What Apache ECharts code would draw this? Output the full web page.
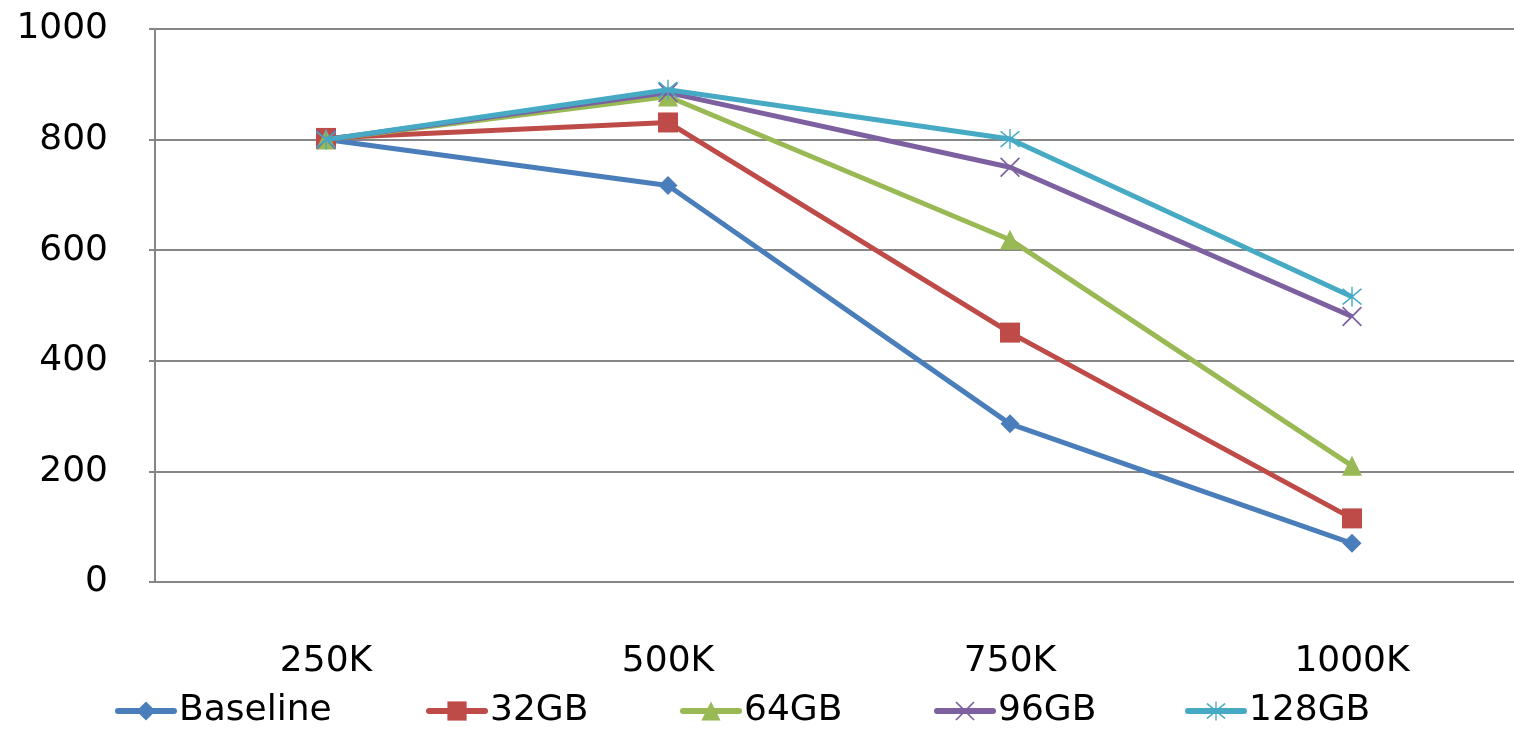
<!DOCTYPE html>
<html>
<head>
<meta charset="utf-8">
<script src="https://cdn.jsdelivr.net/npm/echarts@6/dist/echarts.min.js"></script>
<style>
  html, body { margin: 0; padding: 0; background: #fff; }
  #chart { width: 1514px; height: 730px; }
</style>
</head>
<body>
<div id="chart"></div>
<script>
// Workload sizes along the x axis
const categories = ['250K', '500K', '750K', '1000K'];

// One array per memory configuration
const baseline = [800, 717, 286, 70];
const gb32 = [803, 831, 451, 115];
const gb64 = [800, 878, 619, 210];
const gb96 = [800, 885, 750, 480];
const gb128 = [800, 890, 801, 516];

const yTicks = [0, 200, 400, 600, 800, 1000];

const seriesNames = ['Baseline', '32GB', '64GB', '96GB', '128GB'];
const seriesData = [baseline, gb32, gb64, gb96, gb128];
const colors = ['#4A7EBB', '#BE4B48', '#98B954', '#7D60A0', '#46AAC5'];

// Thin cross and asterisk marker outlines
const crossPath = 'path://M0,1.2 L1.2,0 L10,8.8 L18.8,0 L20,1.2 L11.2,10 L20,18.8 L18.8,20 L10,11.2 L1.2,20 L0,18.8 L8.8,10 Z';
const starPath = 'path://M0,1.2 L1.2,0 L10,8.8 L18.8,0 L20,1.2 L11.2,10 L20,18.8 L18.8,20 L10,11.2 L1.2,20 L0,18.8 L8.8,10 Z M9.3,-2 L10.7,-2 L10.7,22 L9.3,22 Z';
const symbols = ['diamond', 'rect', 'triangle', crossPath, starPath];
const symbolSizes = [19, 20, 20, 20, 20];

const font = '"DejaVu Sans", sans-serif';

const legendLefts = [110, 421, 675, 929, 1180];

const chart = echarts.init(document.getElementById('chart'), null, { renderer: 'canvas' });

chart.setOption({
  animation: false,
  backgroundColor: '#ffffff',
  color: colors,
  grid: { left: 155, right: -9, top: 29, bottom: 148, outerBoundsMode: 'none', containLabel: false },
  legend: seriesNames.map((name, i) => ({
    data: [name],
    left: legendLefts[i],
    top: 688,
    itemWidth: 56,
    itemHeight: 24,
    itemGap: 4,
    lineStyle: { width: 6, cap: 'round' },
    textStyle: { fontFamily: font, fontSize: 36, color: '#000' }
  })),
  xAxis: {
    type: 'category',
    data: categories,
    boundaryGap: true,
    axisLine: { lineStyle: { color: '#868686', width: 2 } },
    axisTick: { show: false },
    axisLabel: { color: '#000', fontFamily: font, fontSize: 36, margin: 62 },
    splitLine: { show: false }
  },
  yAxis: {
    type: 'value',
    min: yTicks[0],
    max: yTicks[yTicks.length - 1],
    interval: yTicks[1] - yTicks[0],
    axisLine: { show: true, lineStyle: { color: '#868686', width: 2 } },
    axisTick: { show: true, length: 6, lineStyle: { color: '#868686', width: 2 } },
    axisLabel: {
      color: '#000', fontFamily: font, fontSize: 36, margin: 47,
      formatter: (v) => String(v)
    },
    splitLine: { lineStyle: { color: '#868686', width: 2 } }
  },
  series: seriesNames.map((name, i) => ({
    name: name,
    type: 'line',
    data: seriesData[i],
    symbol: symbols[i],
    symbolSize: symbolSizes[i],
    showAllSymbol: true,
    lineStyle: { width: 5, color: colors[i] },
    itemStyle: { color: colors[i] },
    z: 2 + i
  }))
});
</script>
</body>
</html>
